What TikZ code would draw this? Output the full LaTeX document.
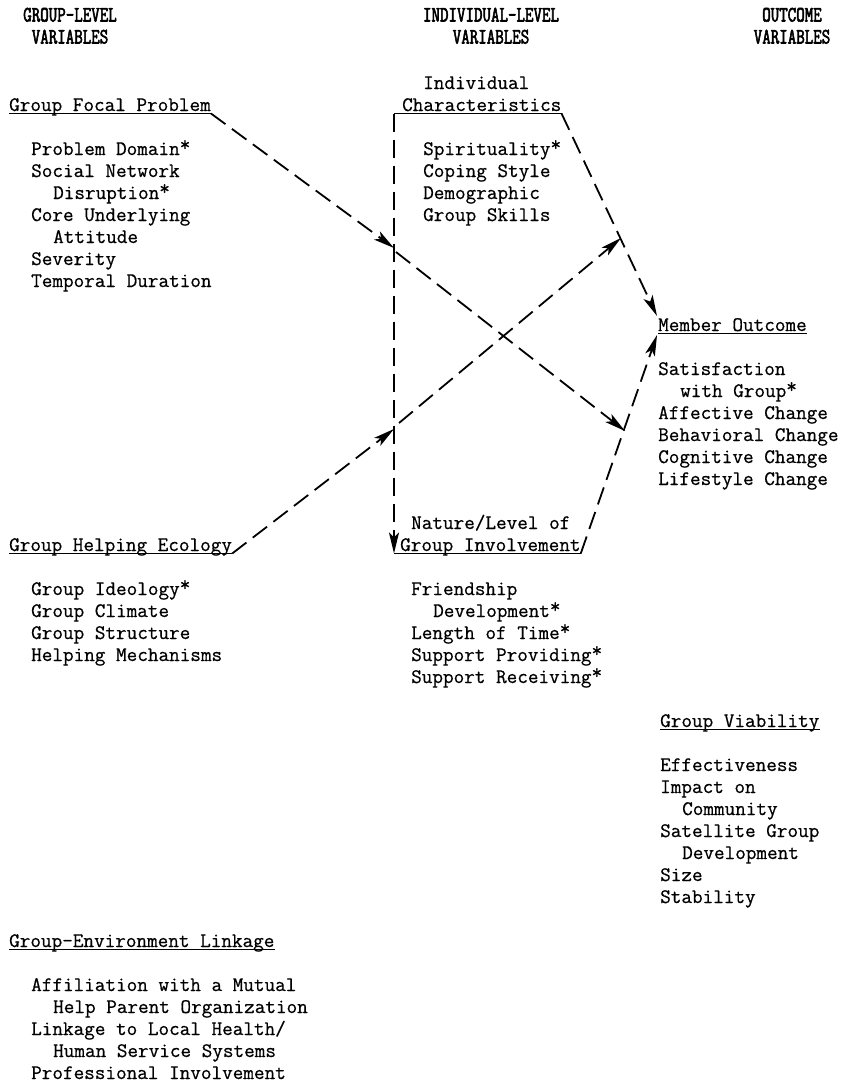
\documentclass[tikz,border=0pt]{standalone}
\usepackage{fontspec}
\usetikzlibrary{arrows.meta,calc}
\newfontfamily\twfam{Latin Modern Mono}[FakeBold=0.6]
\newfontfamily\hdfam{Latin Modern Mono}[FakeStretch=0.75,FakeBold=2.5]
\newcommand\twfont{\twfam\fontsize{20.6}{22}\selectfont}
\newcommand\hdsize{\hdfam\fontsize{22}{22}\selectfont}
\newcommand\stari{\raisebox{0.2em}{*}}
\begin{document}
\begin{tikzpicture}[x=1pt,y=-1pt,
  tw/.style={anchor=base west, inner sep=0pt, font=\twfont},
  hd/.style={anchor=base, inner sep=0pt, font=\hdsize},
  ul/.style={line width=1.4pt},
  flow/.style={line width=1.8pt, dash pattern=on 18pt off 8pt,
    -{Stealth[length=21pt,width=10pt,inset=5pt]}},
  ]
\useasboundingbox (0,0) rectangle (848,1084);
% headers
\node[hd] (h1a) at (70,21.5) {GROUP-LEVEL};
\node[hd] (h1b) at (70,43.5) {VARIABLES};
\node[hd] (h2a) at (491,21.5) {INDIVIDUAL-LEVEL};
\node[hd] (h2b) at (491,43.5) {VARIABLES};
\node[hd] (h3a) at (792,21.5) {OUTCOME};
\node[hd] (h3b) at (792,43.5) {VARIABLES};
% group focal problem
\node[tw] (fp) at (9,111) {Group Focal Problem};
\node[tw] (fp1) at (31,155) {Problem Domain\stari};
\node[tw] (fp2) at (31,177) {Social Network};
\node[tw] (fp3) at (53,199) {Disruption\stari};
\node[tw] (fp4) at (31,221) {Core Underlying};
\node[tw] (fp5) at (53,243) {Attitude};
\node[tw] (fp6) at (31,265) {Severity};
\node[tw] (fp7) at (31,287) {Temporal Duration};
% individual characteristics
\node[tw] (ic0) at (423,89) {Individual};
\node[tw] (ic) at (402,111) {Characteristics};
\node[tw] (ic1) at (423,155) {Spirituality\stari};
\node[tw] (ic2) at (423,177) {Coping Style};
\node[tw] (ic3) at (423,199) {Demographic};
\node[tw] (ic4) at (423,221) {Group Skills};
% member outcome
\node[tw] (mo) at (658,331) {Member Outcome};
\node[tw] (mo1) at (658,375) {Satisfaction};
\node[tw] (mo2) at (680,397) {with Group\stari};
\node[tw] (mo3) at (658,419) {Affective Change};
\node[tw] (mo4) at (658,441) {Behavioral Change};
\node[tw] (mo5) at (658,463) {Cognitive Change};
\node[tw] (mo6) at (658,485) {Lifestyle Change};
% group helping ecology
\node[tw] (he) at (9,551) {Group Helping Ecology};
\node[tw] (he1) at (31,595) {Group Ideology\stari};
\node[tw] (he2) at (31,617) {Group Climate};
\node[tw] (he3) at (31,639) {Group Structure};
\node[tw] (he4) at (31,661) {Helping Mechanisms};
% group involvement
\node[tw] (gi0) at (411,529) {Nature/Level of};
\node[tw] (gi) at (400,551) {Group Involvement};
\node[tw] (gi1) at (411,595) {Friendship};
\node[tw] (gi2) at (433,617) {Development\stari};
\node[tw] (gi3) at (411,639) {Length of Time\stari};
\node[tw] (gi4) at (411,661) {Support Providing\stari};
\node[tw] (gi5) at (411,683) {Support Receiving\stari};
% group viability
\node[tw] (gv) at (660,727) {Group Viability};
\node[tw] (gv1) at (660,771) {Effectiveness};
\node[tw] (gv2) at (660,793) {Impact on};
\node[tw] (gv3) at (682,815) {Community};
\node[tw] (gv4) at (660,837) {Satellite Group};
\node[tw] (gv5) at (682,859) {Development};
\node[tw] (gv6) at (660,881) {Size};
\node[tw] (gv7) at (660,903) {Stability};
% group-environment linkage
\node[tw] (el) at (9,947) {Group-Environment Linkage};
\node[tw] (el1) at (31,991) {Affiliation with a Mutual};
\node[tw] (el2) at (53,1013) {Help Parent Organization};
\node[tw] (el3) at (31,1035) {Linkage to Local Health/};
\node[tw] (el4) at (53,1057) {Human Service Systems};
\node[tw] (el5) at (31,1079) {Professional Involvement};
% underline end points
\coordinate (fpR) at ([yshift=-2.5pt]fp.base east);
\coordinate (heR) at ([yshift=-2.5pt]he.base east);
\coordinate (icL) at (394,113.5);
\coordinate (icR) at ([yshift=-2.5pt]ic.base east);
\coordinate (giL) at (394,553.5);
\coordinate (giR) at ([yshift=-2.5pt]gi.base east);
% underlines
\draw[ul] ([yshift=-2.5pt]fp.base west) -- (fpR);
\draw[ul] ([yshift=-2.5pt]he.base west) -- (heR);
\draw[ul] (icL) -- (icR);
\draw[ul] (giL) -- (giR);
\draw[ul] ([yshift=-2.5pt]mo.base west) -- ([yshift=-2.5pt]mo.base east);
\draw[ul] ([yshift=-2.5pt]gv.base west) -- ([yshift=-2.5pt]gv.base east);
\draw[ul] ([yshift=-2.5pt]el.base west) -- ([yshift=-2.5pt]el.base east);
% arrow meeting points
\coordinate (vA) at (394,248);
\coordinate (vA2) at (396,252);
\coordinate (vB) at (394,429);
\coordinate (vB2) at (399,423);
\coordinate (rA) at (625,431);
\coordinate (rB) at (621,238);
\coordinate (moT) at (657,316);
\coordinate (moB) at (657,335);
% connectors
\draw[flow] (icL) -- (giL);
\draw[flow] (fpR) -- (vA);
\draw[flow] (vA2) -- (rA);
\draw[flow] (heR) -- (vB);
\draw[flow] (vB2) -- (rB);
\draw[flow] (icR) -- (moT);
\draw[flow] (giR) -- (moB);
\end{tikzpicture}
\end{document}
